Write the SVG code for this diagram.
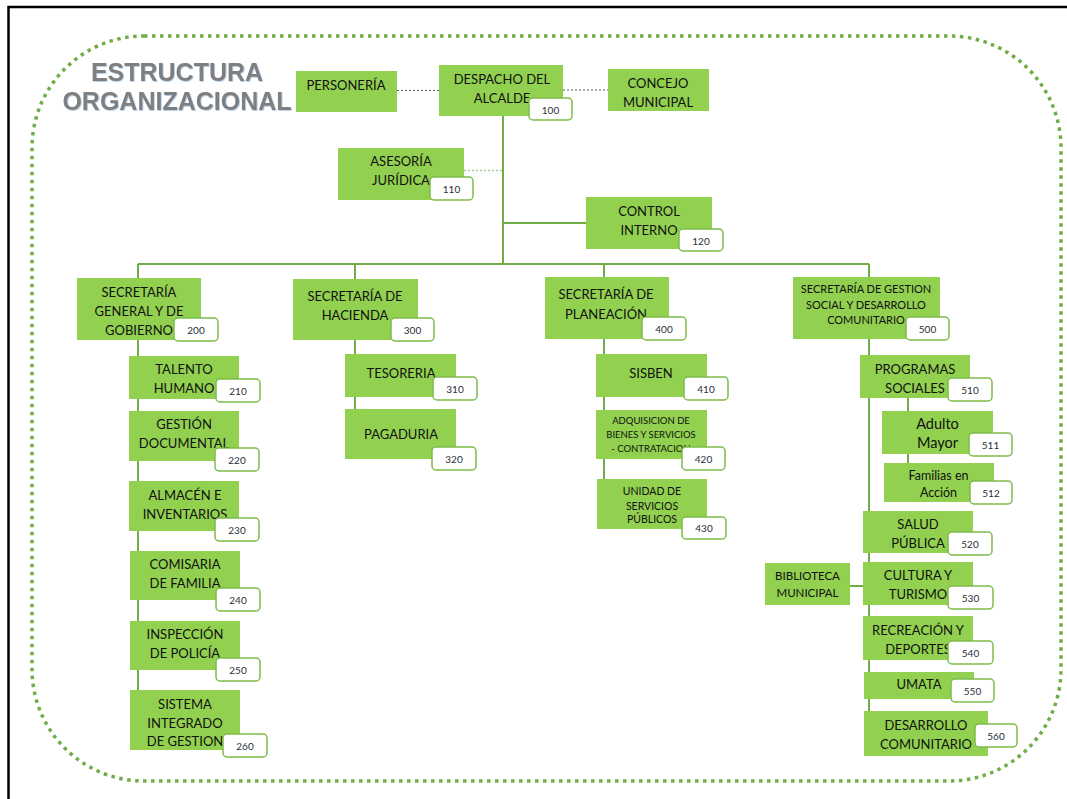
<svg xmlns="http://www.w3.org/2000/svg" width="1067" height="799" viewBox="0 0 1067 799">
<defs>
<filter id="tsh" x="-5%" y="-20%" width="110%" height="140%">
<feDropShadow dx="0.8" dy="0.8" stdDeviation="0.4" flood-color="#9DC3E6" flood-opacity="0.9"/>
</filter>
</defs>
<style>
.box{fill:#92D050}
.t{font-family:Lato,'Open Sans',sans-serif;font-size:13px;fill:#111;text-anchor:middle}
.s11{font-size:11px}
.s95{font-size:9.5px}
.s105{font-size:10.5px}
.s115{font-size:11.5px}
.s125{font-size:12.5px}
.s145{font-size:14.5px}
.bd{fill:#fff;stroke:#7DBB4A;stroke-width:1.5}
.n{font-family:Lato,'Open Sans',sans-serif;font-size:10px;fill:#2b2d3a;text-anchor:middle}
.ln{stroke:#70AD47;stroke-width:2;fill:none}
.title{font-family:'Liberation Sans',Arial,sans-serif;font-weight:bold;font-size:25px;fill:#7f7f7f;text-anchor:middle}
</style>
<rect width="1067" height="799" fill="#fff"/>
<path d="M8.5 799 V7 H1067" fill="none" stroke="#000" stroke-width="2.5"/>
<rect x="32" y="36" width="1029" height="745" rx="112" ry="112" fill="none" stroke="#70AD47" stroke-width="3.5" stroke-dasharray="3.5 4.5"/>
<g id="title" filter="url(#tsh)">
<text class="title" x="177" y="81">ESTRUCTURA</text>
<text class="title" x="177" y="110">ORGANIZACIONAL</text>
</g>
<g id="connectors">
<path class="ln" d="M503 116 V264 M503 223 H586 M138 264 H869 M138 264 V690 M355 264 V409 M604 264 V479 M869 264 V711 M908 398 V463 M850 586 H863"/>
<path d="M397 90.5 H439 M563 90 H608" stroke="#555" stroke-width="1.2" stroke-dasharray="2 2" fill="none"/>
<path d="M464 170.5 H503" stroke="#A9D18E" stroke-width="1.5" stroke-dasharray="2 2" fill="none"/>
</g>
<g id="personeria"><rect class="box" x="296" y="71" width="101" height="41"/><text class="t" x="346" y="89.5">PERSONERÍA</text></g>
<g id="despacho"><rect class="box" x="439" y="65" width="124" height="51"/><text class="t" x="502"><tspan x="502" y="83.5">DESPACHO DEL</tspan><tspan x="502" y="102.5">ALCALDE</tspan></text><rect class="bd" x="529" y="98" width="43" height="22" rx="4"/><text class="n" x="550.5" y="113.5">100</text></g>
<g id="concejo"><rect class="box" x="608" y="69" width="101" height="42"/><text class="t"><tspan x="658" y="87.5">CONCEJO</tspan><tspan x="658" y="106.5">MUNICIPAL</tspan></text></g>
<g id="asesoria"><rect class="box" x="338" y="148" width="126" height="52"/><text class="t"><tspan x="401" y="166">ASESORÍA</tspan><tspan x="401" y="185">JURÍDICA</tspan></text><rect class="bd" x="430" y="177" width="43" height="23" rx="4"/><text class="n" x="451.5" y="192.5">110</text></g>
<g id="control"><rect class="box" x="586" y="197" width="126" height="52"/><text class="t"><tspan x="649" y="216">CONTROL</tspan><tspan x="649" y="234.5">INTERNO</tspan></text><rect class="bd" x="679" y="229" width="44" height="22" rx="4"/><text class="n" x="701" y="244.5">120</text></g>
<g id="sec-general"><rect class="box" x="77" y="278" width="124" height="62"/><text class="t"><tspan x="139" y="297">SECRETARÍA</tspan><tspan x="139" y="316">GENERAL Y DE</tspan><tspan x="139" y="335">GOBIERNO</tspan></text><rect class="bd" x="174" y="318" width="44" height="23" rx="4"/><text class="n" x="196" y="333.5">200</text></g>
<g id="sec-hacienda"><rect class="box" x="293" y="279" width="125" height="61"/><text class="t"><tspan x="355" y="301">SECRETARÍA DE</tspan><tspan x="355" y="320">HACIENDA</tspan></text><rect class="bd" x="391" y="318" width="43" height="23" rx="4"/><text class="n" x="412.5" y="333.5">300</text></g>
<g id="sec-planeacion"><rect class="box" x="545" y="277" width="124" height="62"/><text class="t"><tspan x="606" y="299">SECRETARÍA DE</tspan><tspan x="606" y="319">PLANEACIÓN</tspan></text><rect class="bd" x="642" y="317" width="44" height="23" rx="4"/><text class="n" x="664" y="332.5">400</text></g>
<g id="sec-social"><rect class="box" x="793" y="277" width="147" height="62"/><text class="t s11"><tspan x="866" y="292.5">SECRETARÍA DE GESTION</tspan><tspan x="866" y="308.5">SOCIAL Y DESARROLLO</tspan><tspan x="866" y="324">COMUNITARIO</tspan></text><rect class="bd" x="906" y="317" width="43" height="23" rx="4"/><text class="n" x="927.5" y="332.5">500</text></g>
<g id="talento"><rect class="box" x="129" y="356" width="110" height="43"/><text class="t"><tspan x="184" y="374">TALENTO</tspan><tspan x="184" y="393">HUMANO</tspan></text><rect class="bd" x="216" y="379" width="44" height="23" rx="4"/><text class="n" x="238" y="394.5">210</text></g>
<g id="gestion"><rect class="box" x="129" y="411" width="110" height="50"/><text class="t"><tspan x="184" y="428.5">GESTIÓN</tspan><tspan x="184" y="448">DOCUMENTAL</tspan></text><rect class="bd" x="215" y="448" width="44" height="23" rx="4"/><text class="n" x="237" y="463.5">220</text></g>
<g id="almacen"><rect class="box" x="129" y="481" width="110" height="50"/><text class="t"><tspan x="185" y="499.5">ALMACÉN E</tspan><tspan x="185" y="518.5">INVENTARIOS</tspan></text><rect class="bd" x="215" y="518" width="44" height="23" rx="4"/><text class="n" x="237" y="533.5">230</text></g>
<g id="comisaria"><rect class="box" x="130" y="551" width="110" height="49"/><text class="t"><tspan x="185" y="569">COMISARIA</tspan><tspan x="185" y="588">DE FAMILIA</tspan></text><rect class="bd" x="216" y="588" width="44" height="23" rx="4"/><text class="n" x="238" y="603.5">240</text></g>
<g id="inspeccion"><rect class="box" x="130" y="621" width="110" height="49"/><text class="t"><tspan x="185" y="638.5">INSPECCIÓN</tspan><tspan x="185" y="658">DE POLICÍA</tspan></text><rect class="bd" x="216" y="658" width="44" height="23" rx="4"/><text class="n" x="238" y="673.5">250</text></g>
<g id="sistema"><rect class="box" x="130" y="690" width="110" height="60"/><text class="t"><tspan x="185" y="708.5">SISTEMA</tspan><tspan x="185" y="727.5">INTEGRADO</tspan><tspan x="185" y="746">DE GESTION</tspan></text><rect class="bd" x="223" y="734" width="44" height="23" rx="4"/><text class="n" x="245" y="749.5">260</text></g>
<g id="tesoreria"><rect class="box" x="345" y="354" width="111" height="43"/><text class="t" x="401" y="377.5">TESORERIA</text><rect class="bd" x="433" y="377" width="44" height="23" rx="4"/><text class="n" x="455" y="392.5">310</text></g>
<g id="pagaduria"><rect class="box" x="345" y="409" width="111" height="50"/><text class="t" x="401" y="439">PAGADURIA</text><rect class="bd" x="432" y="447" width="44" height="23" rx="4"/><text class="n" x="454" y="462.5">320</text></g>
<g id="sisben"><rect class="box" x="596" y="354" width="111" height="43"/><text class="t" x="651" y="377.5">SISBEN</text><rect class="bd" x="684" y="377" width="44" height="23" rx="4"/><text class="n" x="706" y="392.5">410</text></g>
<g id="adquisicion"><rect class="box" x="596" y="410" width="111" height="49"/><text class="t s95"><tspan x="651" y="423.5">ADQUISICION DE</tspan><tspan x="651" y="437.5">BIENES Y SERVICIOS</tspan><tspan x="651" y="451.5">- CONTRATACION</tspan></text><rect class="bd" x="682" y="447" width="43" height="23" rx="4"/><text class="n" x="703.5" y="462.5">420</text></g>
<g id="unidad"><rect class="box" x="597" y="479" width="110" height="50"/><text class="t s105"><tspan x="652" y="495">UNIDAD DE</tspan><tspan x="652" y="510">SERVICIOS</tspan><tspan x="652" y="523">PÚBLICOS</tspan></text><rect class="bd" x="682" y="517" width="44" height="22" rx="4"/><text class="n" x="704" y="532">430</text></g>
<g id="programas"><rect class="box" x="860" y="355" width="110" height="43"/><text class="t"><tspan x="915" y="374">PROGRAMAS</tspan><tspan x="915" y="393">SOCIALES</tspan></text><rect class="bd" x="948" y="378" width="44" height="23" rx="4"/><text class="n" x="970" y="393.5">510</text></g>
<g id="adulto"><rect class="box" x="882" y="411" width="111" height="43"/><text class="t s145"><tspan x="937.5" y="429">Adulto</tspan><tspan x="937.5" y="447.5">Mayor</tspan></text><rect class="bd" x="969" y="433" width="43" height="23" rx="4"/><text class="n" x="990.5" y="448.5">511</text></g>
<g id="familias"><rect class="box" x="884" y="463" width="110" height="39"/><text class="t s125"><tspan x="938.5" y="480">Familias en</tspan><tspan x="938.5" y="497">Acción</tspan></text><rect class="bd" x="970" y="481" width="42" height="23" rx="4"/><text class="n" x="991" y="496.5">512</text></g>
<g id="salud"><rect class="box" x="863" y="511" width="110" height="42"/><text class="t"><tspan x="918" y="529">SALUD</tspan><tspan x="918" y="548">PÚBLICA</tspan></text><rect class="bd" x="948" y="532" width="44" height="23" rx="4"/><text class="n" x="970" y="547.5">520</text></g>
<g id="biblioteca"><rect class="box" x="765" y="563" width="85" height="42"/><text class="t s115"><tspan x="807.5" y="580">BIBLIOTECA</tspan><tspan x="807.5" y="597">MUNICIPAL</tspan></text></g>
<g id="cultura"><rect class="box" x="863" y="562" width="110" height="43"/><text class="t"><tspan x="918" y="579.5">CULTURA Y</tspan><tspan x="918" y="598.5">TURISMO</tspan></text><rect class="bd" x="948" y="586" width="45" height="23" rx="4"/><text class="n" x="970.5" y="601.5">530</text></g>
<g id="recreacion"><rect class="box" x="863" y="616" width="110" height="44"/><text class="t"><tspan x="918" y="634.5">RECREACIÓN Y</tspan><tspan x="918" y="653.5">DEPORTES</tspan></text><rect class="bd" x="948" y="641" width="45" height="23" rx="4"/><text class="n" x="970.5" y="656.5">540</text></g>
<g id="umata"><rect class="box" x="864" y="672" width="110" height="27"/><text class="t" x="919" y="689">UMATA</text><rect class="bd" x="951" y="679" width="43" height="23" rx="4"/><text class="n" x="972.5" y="694.5">550</text></g>
<g id="desarrollo"><rect class="box" x="864" y="711" width="124" height="45"/><text class="t"><tspan x="926" y="730">DESARROLLO</tspan><tspan x="926" y="749">COMUNITARIO</tspan></text><rect class="bd" x="975" y="724" width="42" height="23" rx="4"/><text class="n" x="996" y="739.5">560</text></g>
</svg>
